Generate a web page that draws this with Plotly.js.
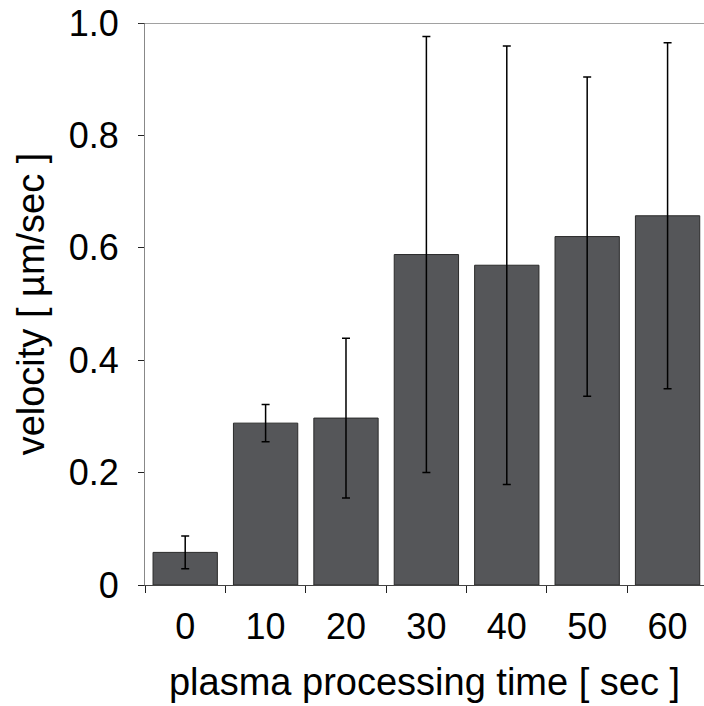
<!DOCTYPE html>
<html>
<head>
<meta charset="utf-8">
<script src="https://cdn.plot.ly/plotly-3.0.1.min.js"></script>
<style>html,body{margin:0;padding:0;background:#fff;}#chart{width:704px;height:706px;}</style>
</head>
<body>
<div id="chart"></div>
<script>
const categories = ["0", "10", "20", "30", "40", "50", "60"];
const velocity = [0.058, 0.288, 0.297, 0.588, 0.569, 0.620, 0.657];
const errors = [0.029, 0.033, 0.142, 0.388, 0.390, 0.284, 0.308];
const yTicks = [0, 0.2, 0.4, 0.6, 0.8, 1.0];
const yTickText = ["0", "0.2", "0.4", "0.6", "0.8", "1.0"];

const font = {family: "Liberation Sans, Arial, sans-serif", size: 36, color: "#000"};
const titleFont = {family: "Liberation Sans, Arial, sans-serif", size: 38, color: "#000"};

const trace = {
  type: "bar",
  x: categories,
  y: velocity,
  marker: {color: "#555659", line: {color: "#2a2a2a", width: 1}},
  error_y: {type: "data", array: errors, visible: true, color: "#000", thickness: 1.5, width: 4},
  hoverinfo: "none"
};

const layout = {
  width: 704, height: 706,
  margin: {l: 145, r: 0, t: 23, b: 121},
  paper_bgcolor: "#fff", plot_bgcolor: "#fff",
  font: font,
  showlegend: false,
  bargap: 0.2,
  xaxis: {
    type: "category",
    range: [-0.5, 6.453],
    tickson: "boundaries",
    ticks: "outside", ticklen: 7, tickcolor: "#222", tickwidth: 1,
    showline: true, linecolor: "#444", linewidth: 1,
    showgrid: false, zeroline: false,
    tickfont: font,
    ticklabelstandoff: 10,
    automargin: false,
    title: {text: "plasma processing time [ sec ]", font: titleFont, standoff: 22}
  },
  yaxis: {
    range: [0, 1.0],
    tickvals: yTicks, ticktext: yTickText,
    ticks: "outside", ticklen: 6, tickcolor: "#222", tickwidth: 1,
    showline: true, linecolor: "#888", linewidth: 1,
    showgrid: false, zeroline: false,
    tickfont: font,
    ticklabelstandoff: 12,
    automargin: false,
    title: {text: "velocity [ µm/sec ]", font: titleFont, standoff: 12}
  },
  shapes: [{
    type: "line", xref: "paper", yref: "y",
    x0: -0.011, x1: 1, y0: 1, y1: 1,
    line: {color: "#444", width: 1}
  }]
};

Plotly.newPlot("chart", [trace], layout, {staticPlot: true, displayModeBar: false});
</script>
</body>
</html>
